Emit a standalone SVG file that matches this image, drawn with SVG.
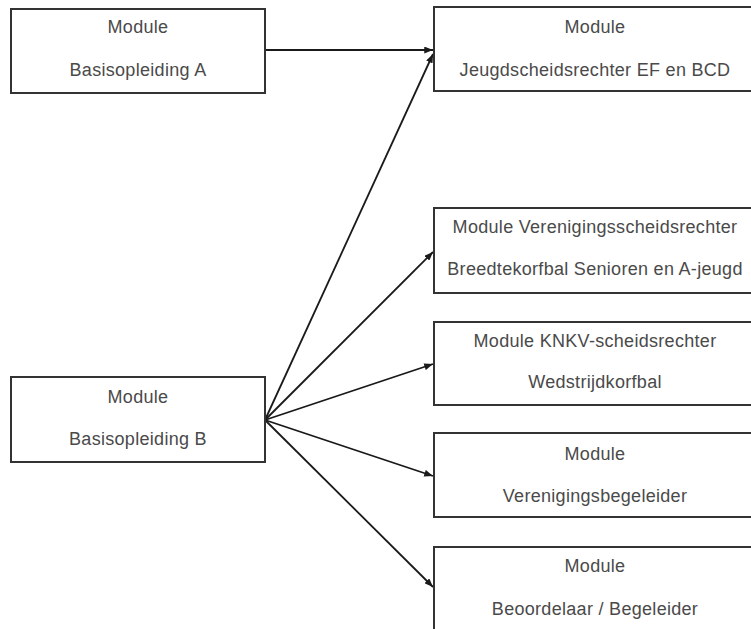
<svg xmlns="http://www.w3.org/2000/svg" width="751" height="629" viewBox="0 0 751 629">
<defs>
<marker id="arr" viewBox="0 0 10 8" refX="10" refY="4" markerWidth="9" markerHeight="7" markerUnits="userSpaceOnUse" orient="auto">
<path d="M0,0 L10,4 L0,8 Z" fill="#1a1a1a"/>
</marker>
<style>
.box{fill:#fff;stroke:#333;stroke-width:2}
.t{font-family:"Liberation Sans",Arial,sans-serif;font-size:18px;letter-spacing:0.3px;fill:#4a4a4a;text-anchor:middle}
.c{stroke:#1a1a1a;stroke-width:1.8;fill:none;marker-end:url(#arr)}
</style>
</defs>
<rect width="751" height="629" fill="#fff"/>
<g id="connectors">
<line class="c" x1="266" y1="50" x2="433" y2="50"/>
<line class="c" x1="265" y1="420" x2="433" y2="54"/>
<line class="c" x1="265" y1="420" x2="433" y2="252"/>
<line class="c" x1="265" y1="420" x2="433" y2="364"/>
<line class="c" x1="265" y1="420" x2="433" y2="476"/>
<line class="c" x1="265" y1="420" x2="433" y2="587"/>
</g>
<g id="nodeA">
<rect class="box" x="11" y="9" width="254" height="84"/>
<text class="t" x="138" y="33">Module</text>
<text class="t" x="138" y="76">Basisopleiding A</text>
</g>
<g id="nodeB">
<rect class="box" x="11" y="377" width="254" height="85"/>
<text class="t" x="138" y="403">Module</text>
<text class="t" x="138" y="445">Basisopleiding B</text>
</g>
<g id="nodeJ">
<rect class="box" x="434" y="7" width="330" height="84"/>
<text class="t" x="595" y="33">Module</text>
<text class="t" x="595" y="76">Jeugdscheidsrechter EF en BCD</text>
</g>
<g id="nodeV">
<rect class="box" x="434" y="208" width="330" height="85"/>
<text class="t" x="595" y="233">Module Verenigingsscheidsrechter</text>
<text class="t" x="595" y="275">Breedtekorfbal Senioren en A-jeugd</text>
</g>
<g id="nodeK">
<rect class="box" x="434" y="322" width="330" height="83"/>
<text class="t" x="595" y="347">Module KNKV-scheidsrechter</text>
<text class="t" x="595" y="388">Wedstrijdkorfbal</text>
</g>
<g id="nodeVb">
<rect class="box" x="434" y="433" width="330" height="84"/>
<text class="t" x="595" y="460">Module</text>
<text class="t" x="595" y="502">Verenigingsbegeleider</text>
</g>
<g id="nodeBo">
<rect class="box" x="434" y="547" width="330" height="100"/>
<text class="t" x="595" y="572">Module</text>
<text class="t" x="595" y="615">Beoordelaar / Begeleider</text>
</g>
</svg>
